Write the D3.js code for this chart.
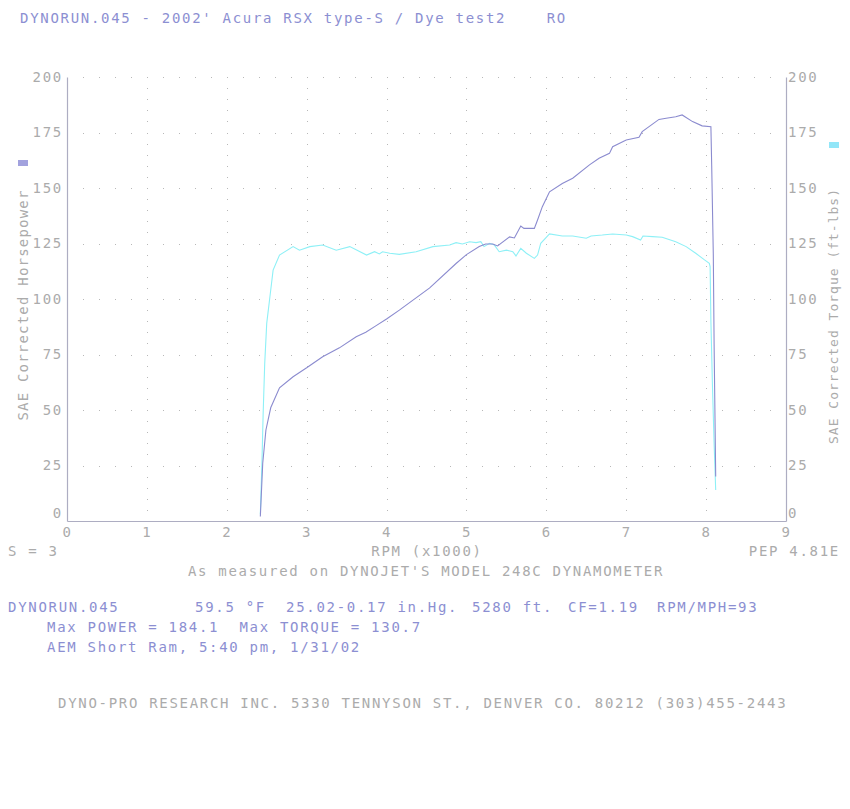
<!DOCTYPE html>
<html>
<head>
<meta charset="utf-8">
<script src="https://cdn.jsdelivr.net/npm/d3@7"></script>
<style>
  body { margin: 0; background: #fff; }
  svg text { font-family: "DejaVu Sans Mono", monospace; font-size: 14px; letter-spacing: 1.7px; white-space: pre; }
</style>
</head>
<body>
<div id="chartDiv"></div>
<script>
// rpm (x1000) and SAE corrected horsepower
const powerRpm = [2.42, 2.45, 2.49, 2.55, 2.66, 2.83, 3.0, 3.2, 3.41, 3.62, 3.74, 3.87, 4.0, 4.16,
  4.54, 4.87, 5.0, 5.16, 5.24, 5.33, 5.39, 5.54, 5.6, 5.68, 5.72, 5.85, 5.89, 5.95, 6.04, 6.2,
  6.33, 6.54, 6.66, 6.79, 6.83, 7.0, 7.16, 7.2, 7.41, 7.5, 7.62, 7.7, 7.83, 7.95, 8.06,
  8.07, 8.09, 8.10, 8.11, 8.12];
const powerHp = [2, 26, 41, 51, 60, 65, 69, 74, 78, 83, 85, 88, 91, 95,
  105, 116, 120, 123.6, 124.8, 124.8, 123.9, 128, 127.5, 132.9, 131.8, 131.8, 135.6, 141.6, 148.3, 152,
  154.4, 160.4, 163.4, 165.6, 168.6, 171.6, 172.8, 175.4, 180.9, 181.4, 182.1, 182.9, 179.9, 178, 177.6,
  160, 120, 80, 50, 20];

// rpm (x1000) and SAE corrected torque (ft-lbs)
const torqueRpm = [2.42, 2.44, 2.455, 2.475, 2.5, 2.54, 2.58, 2.66, 2.83, 2.91, 3.04, 3.2, 3.37, 3.54,
  3.75, 3.85, 3.91, 3.95, 4.04, 4.16, 4.37, 4.58, 4.79, 4.87, 4.95, 5.04, 5.12, 5.18, 5.22, 5.29,
  5.35, 5.41, 5.5, 5.58, 5.62, 5.68, 5.75, 5.85, 5.89, 5.93, 6.04, 6.2, 6.33, 6.5, 6.56, 6.7,
  6.83, 7.0, 7.08, 7.18, 7.21, 7.33, 7.45, 7.62, 7.75, 7.87, 7.98, 8.04, 8.05, 8.06, 8.08, 8.10, 8.12];
const torqueFt = [3, 26, 48, 71, 89, 101, 113, 119.8, 123.6, 122, 123.6, 124.3, 122, 123.6,
  119.8, 121.3, 120.3, 121.3, 120.6, 120.1, 121.3, 123.6, 124.3, 125.4, 124.8, 125.8, 125.4, 125.8, 123.6, 125.1,
  124.3, 121.3, 122, 121.3, 119.4, 122.8, 120.6, 118.3, 119.8, 125.1, 129.3, 128.4, 128.4, 127.4, 128.4, 128.8,
  129.3, 128.8, 128.1, 126.6, 128.4, 128.1, 127.8, 125.8, 123.6, 120.6, 117.6, 116.1, 114.6, 90, 60, 35, 14];

const xTicks = [0, 1, 2, 3, 4, 5, 6, 7, 8, 9];
const yTicks = [0, 25, 50, 75, 100, 125, 150, 175, 200];

const titleText = "DYNORUN.045 - 2002' Acura RSX type-S / Dye test2    RO";
const infoParts = [["DYNORUN.045", 8], ["59.5 °F", 195], ["25.02-0.17 in.Hg.", 286],
  ["5280 ft.", 472], ["CF=1.19", 568], ["RPM/MPH=93", 657]];
const maxLine = "Max POWER = 184.1  Max TORQUE = 130.7";
const runLine = "AEM Short Ram, 5:40 pm, 1/31/02";
const shopLine = "DYNO-PRO RESEARCH INC. 5330 TENNYSON ST., DENVER CO. 80212 (303)455-2443";

const width = 850, height = 809;
const margin = { top: 77, right: 64, bottom: 288, left: 67 };

const blueText = "#8c8fd2", greyText = "#ababab";
const powerColor = "#8b8bcf", torqueColor = "#8ef0f6";

let svg = d3.select("#chartDiv").append("svg")
  .attr("width", width)
  .attr("height", height);

let x = d3.scaleLinear().domain([0, 9]).range([margin.left, width - margin.right]);
let y = d3.scaleLinear().domain([0, 200]).range([height - margin.bottom, margin.top]);

// dotted grid
let dots = [];
yTicks.slice(1).forEach(v => d3.range(1, 45).forEach(i => dots.push([i * 0.2, v])));
xTicks.slice(1, -1).forEach(r => d3.range(1, 40).forEach(i => dots.push([r, i * 5])));
svg.append("g").selectAll("rect")
  .data(dots)
  .enter().append("rect")
  .attr("x", d => Math.round(x(d[0])))
  .attr("y", d => Math.round(y(d[1])))
  .attr("width", 1).attr("height", 1)
  .attr("fill", "#b8b8b8");

// axes
let yLeft = d3.axisLeft(y).tickValues(yTicks).tickSize(0).tickSizeOuter(0).tickPadding(4);
let yRight = d3.axisRight(y).tickValues(yTicks).tickSize(0).tickSizeOuter(0).tickPadding(2);
let xAxis = d3.axisBottom(x).tickValues(xTicks).tickSize(0).tickSizeOuter(0).tickPadding(6);

function styleAxis(g) {
  g.attr("font-family", null).attr("font-size", null);
  g.select(".domain").attr("stroke", "#adadc2").attr("stroke-width", 1.2);
  g.selectAll("text").attr("fill", greyText);
}

let gLeft = svg.append("g").attr("transform", `translate(${margin.left},0)`).call(yLeft).call(styleAxis);
let gRight = svg.append("g").attr("transform", `translate(${width - margin.right},0)`).call(yRight).call(styleAxis);
svg.append("g").attr("transform", `translate(0,${height - margin.bottom})`).call(xAxis).call(styleAxis);

// the zero labels sit a little above the baseline on the dyno sheet
[gLeft, gRight].forEach(g => g.selectAll(".tick").filter(d => d === 0).select("text").attr("dy", "-0.25em"));

// curves
let line = d3.line().x(d => x(d[0])).y(d => y(d[1]));
svg.append("path")
  .datum(d3.zip(torqueRpm, torqueFt))
  .attr("fill", "none").attr("stroke", torqueColor).attr("stroke-width", 1.1)
  .attr("d", line);
svg.append("path")
  .datum(d3.zip(powerRpm, powerHp))
  .attr("fill", "none").attr("stroke", powerColor).attr("stroke-width", 1.1)
  .attr("d", line);

// axis titles + legend swatches
svg.append("text")
  .attr("transform", "translate(28,305) rotate(-90)")
  .attr("text-anchor", "middle").attr("fill", greyText)
  .style("letter-spacing", "1.2px")
  .text("SAE Corrected Horsepower");
svg.append("text")
  .attr("transform", "translate(838,316) rotate(-90)")
  .attr("text-anchor", "middle").attr("fill", greyText)
  .style("font-size", "13px").style("letter-spacing", "1px")
  .text("SAE Corrected Torque (ft-lbs)");
svg.append("rect").attr("x", 18).attr("y", 160).attr("width", 10).attr("height", 6).attr("fill", "#a2a2de");
svg.append("rect").attr("x", 829).attr("y", 142).attr("width", 10).attr("height", 6).attr("fill", "#92e6f8");

// header / footer text
svg.append("text").attr("x", 20).attr("y", 23).attr("fill", blueText).text(titleText);
svg.append("text").attr("x", 8).attr("y", 556).attr("fill", greyText).text("S = 3");
svg.append("text").attr("x", 427).attr("y", 556).attr("text-anchor", "middle").attr("fill", greyText).text("RPM (x1000)");
svg.append("text").attr("x", 840).attr("y", 556).attr("text-anchor", "end").attr("fill", greyText).text("PEP 4.81E");
svg.append("text").attr("x", 426).attr("y", 576).attr("text-anchor", "middle").attr("fill", greyText)
  .text("As measured on DYNOJET'S MODEL 248C DYNAMOMETER");

svg.append("g").selectAll("text")
  .data(infoParts)
  .enter().append("text")
  .attr("x", d => d[1]).attr("y", 612)
  .attr("fill", blueText)
  .text(d => d[0]);
svg.append("text").attr("x", 47).attr("y", 632).attr("fill", blueText).text(maxLine);
svg.append("text").attr("x", 47).attr("y", 652).attr("fill", blueText).text(runLine);
svg.append("text").attr("x", 58).attr("y", 708).attr("fill", greyText).text(shopLine);
</script>
</body>
</html>
